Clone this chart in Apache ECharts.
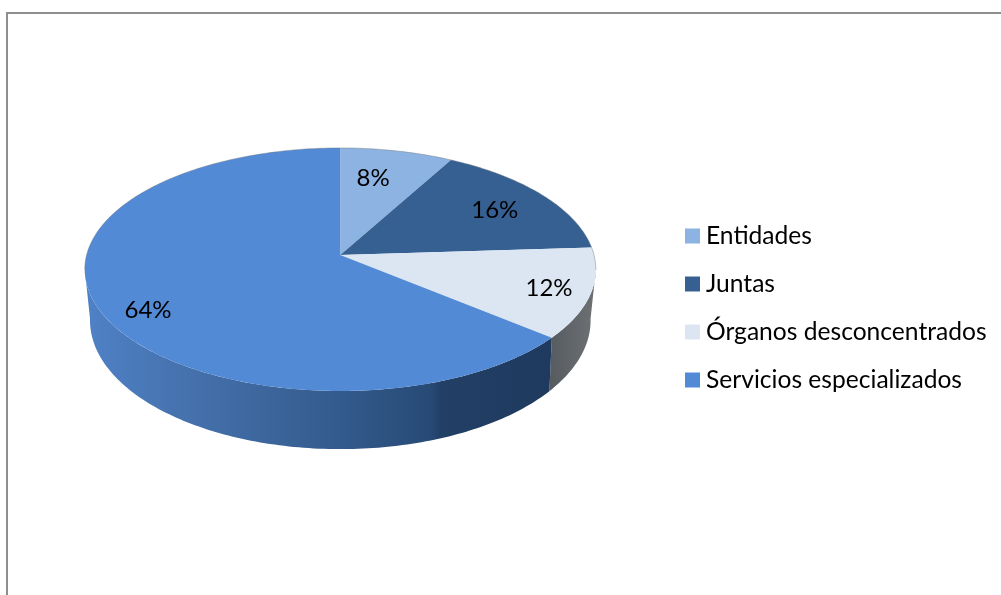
<!DOCTYPE html>
<html>
<head>
<meta charset="utf-8">
<style>html,body{margin:0;padding:0;background:#fff;overflow:hidden}#c{width:1001px;height:595px}</style>
<script src="https://cdn.jsdelivr.net/npm/echarts@6/dist/echarts.min.js"></script>
</head>
<body>
<div id="c"></div>
<script>
const categories = ['Entidades', 'Juntas', 'Órganos desconcentrados', 'Servicios especializados'];
const values = [8, 16, 12, 64];
const labels = ['8%', '16%', '12%', '64%'];
const topColors = ['#8DB3E2', '#366092', '#DCE6F2', '#538AD6'];

// Label placement inside each slice: fraction of the radius, degrees off the slice's middle
const labelRadius = [0.71, 0.75, 0.84, 0.84];
const labelTurn = [-3, 0.6, 0.5, -6];

// Perspective of the disc: top face and bottom face
const topFace = {cx: 340.3, cy: 255, a: 253.7, b: 119.8, k: 0.119};
const lowFace = {cx: 340.3, cy: 303, a: 248, b: 126.4, k: 0.135};
const FRONT_START = 97, FRONT_END = 263;

const sideStops = [
  null,
  null,
  [[0, '#565B60'], [0.5, '#62666A'], [1, '#6E7174']],
  [[0, '#4F81C6'], [0.2, '#4672AE'], [0.55, '#335A8C'], [0.74, '#274A75'], [0.76, '#223F66'], [1, '#1F3A5E']]
];
const sideSpan = [null, null, [549, 596], [88, 552]];

const total = values.reduce((s, v) => s + v, 0);

function project(face, deg, r) {
  const t = deg * Math.PI / 180;
  const u = r * Math.sin(t), v = r * Math.cos(t);
  const w = 1 + face.k * v;
  return [face.cx + face.a * u / w, face.cy - face.b * v / w];
}
function arc(face, d0, d1) {
  const pts = [];
  const n = Math.max(2, Math.ceil(Math.abs(d1 - d0)));
  for (let i = 0; i <= n; i++) pts.push(project(face, d0 + (d1 - d0) * i / n, 1));
  return pts;
}
function rim(points) {
  return {
    type: 'polyline', z2: 6,
    shape: {points},
    style: {fill: null, stroke: 'rgba(110,120,130,0.45)', lineWidth: 1}
  };
}

function makeRender(idx) {
  return function (params, api) {
    const val = api.value(0);
    const before = values.slice(0, idx).reduce((s, v) => s + v, 0);
    const d0 = before / total * 360, d1 = (before + val) / total * 360;
    const children = [];

    const s0 = Math.max(d0, FRONT_START), s1 = Math.min(d1, FRONT_END);
    if (s1 > s0 && sideStops[idx]) {
      children.push({
        type: 'polygon', z2: 1,
        shape: {points: arc(topFace, s0, s1).concat(arc(lowFace, s1, s0))},
        style: {
          fill: new echarts.graphic.LinearGradient(sideSpan[idx][0], 0, sideSpan[idx][1], 0,
            sideStops[idx].map(s => ({offset: s[0], color: s[1]})), true),
          stroke: null
        }
      });
    }
    children.push({
      type: 'polygon', z2: 5,
      shape: {points: [[topFace.cx, topFace.cy]].concat(arc(topFace, d0, d1))},
      style: {fill: api.style().fill, stroke: null}
    });
    if (d0 < FRONT_START) children.push(rim(arc(topFace, d0, Math.min(d1, FRONT_START))));
    if (d1 > FRONT_END) children.push(rim(arc(topFace, Math.max(d0, FRONT_END), d1)));
    const p = project(topFace, (d0 + d1) / 2 + labelTurn[idx], labelRadius[idx]);
    children.push({
      type: 'text', z2: 10,
      style: {text: labels[idx], x: p[0], y: p[1], align: 'center', verticalAlign: 'middle',
        font: '24px Lato', fill: '#000'}
    });
    return {type: 'group', children};
  };
}

const chart = echarts.init(document.getElementById('c'), null, {renderer: 'canvas'});
chart.setOption({
  animation: false,
  backgroundColor: '#fff',
  graphic: [{
    type: 'rect', silent: true, z: -1,
    shape: {x: 7, y: 13, width: 1100, height: 700},
    style: {fill: '#fff', stroke: '#8E8E8E', lineWidth: 2}
  }],
  legend: {
    orient: 'vertical', left: 680, top: 218,
    itemWidth: 15, itemHeight: 15, itemGap: 22, selectedMode: false,
    icon: 'rect',
    data: categories,
    textStyle: {fontFamily: 'Lato', fontSize: 24.6, color: '#000', lineHeight: 26, padding: [0, 0, 0, 1]}
  },
  series: categories.map((name, i) => ({
    type: 'custom', name, coordinateSystem: 'none', silent: true,
    itemStyle: {color: topColors[i]},
    renderItem: makeRender(i),
    data: [[values[i]]]
  }))
});
</script>
</body>
</html>
